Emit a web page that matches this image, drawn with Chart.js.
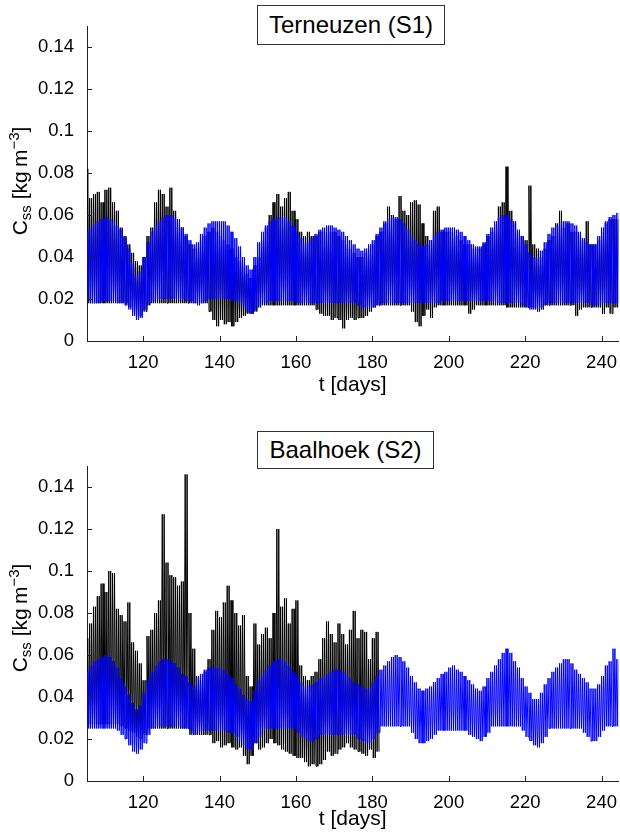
<!DOCTYPE html>
<html><head><meta charset="utf-8">
<script src="https://cdn.jsdelivr.net/npm/chart.js@4.4.1/dist/chart.umd.min.js"></script>
<style>
html,body{margin:0;padding:0;background:#fff;}
#wrap{position:relative;width:620px;height:839px;overflow:hidden;font-family:"Liberation Sans",Arial,Helvetica,sans-serif;color:#000;}
canvas{position:absolute;left:0;}
.tbox{position:absolute;border:1px solid #333;background:#fff;font-size:24px;text-align:center;box-sizing:border-box;white-space:nowrap;}
.ylab{position:absolute;font-size:21px;white-space:nowrap;transform:translate(-50%,-50%) rotate(-90deg);line-height:24px;}
.ylab sub{font-size:15px;vertical-align:-4px;line-height:0}
.ylab sup{font-size:15px;vertical-align:8px;line-height:0}
</style></head><body>
<div id="wrap">
<canvas id="c1" width="620" height="420" style="top:0"></canvas>
<canvas id="c2" width="620" height="419" style="top:420px"></canvas>
<div class="tbox" style="left:257px;top:5px;width:188px;height:40px;line-height:38px">Terneuzen (S1)</div>
<div class="tbox" style="left:257px;top:431px;width:177px;height:38px;line-height:36px">Baalhoek (S2)</div>
<div class="ylab" style="left:20px;top:181px">C<sub>ss</sub> [kg&#8201;m<sup>&#8722;3</sup>]</div>
<div class="ylab" style="left:20px;top:618px">C<sub>ss</sub> [kg&#8201;m<sup>&#8722;3</sup>]</div>
</div>
<script>
// ---- data (kg m^-3): daily high-water / low-water envelope values starting at startDay ----
const startDay = 105;
const tidesPerDay = 2; // semi-diurnal tide: each day's envelope holds for both tides of that day
const xTicks = [120, 140, 160, 180, 200, 220, 240];
const xTickLabels = ['120', '140', '160', '180', '200', '220', '240'];
const yTicks = [0, 0.02, 0.04, 0.06, 0.08, 0.1, 0.12, 0.14];
const yTickLabels = ['0', '0.02', '0.04', '0.06', '0.08', '0.1', '0.12', '0.14'];

// Terneuzen (S1) model
const s1ModHi = [
0.052,0.054,0.056,0.057,0.058,0.059,0.058,0.057,0.055,0.053,
0.049,0.044,0.037,0.031,0.033,0.040,0.047,0.052,0.055,0.057,
0.059,0.060,0.060,0.059,0.057,0.054,0.051,0.048,0.046,0.047,
0.051,0.054,0.056,0.057,0.057,0.057,0.057,0.055,0.052,0.049,
0.045,0.040,0.036,0.034,0.040,0.047,0.052,0.055,0.057,0.058,
0.059,0.059,0.059,0.057,0.055,0.052,0.049,0.047,0.047,0.049,
0.051,0.053,0.054,0.055,0.055,0.054,0.053,0.052,0.050,0.048,
0.046,0.044,0.043,0.044,0.046,0.048,0.051,0.054,0.057,0.058,
0.059,0.059,0.058,0.056,0.053,0.050,0.048,0.046,0.045,0.046,
0.048,0.050,0.052,0.053,0.054,0.054,0.054,0.053,0.052,0.050,
0.048,0.046,0.045,0.045,0.047,0.051,0.054,0.057,0.059,0.060,
0.060,0.058,0.056,0.053,0.050,0.046,0.042,0.040,0.040,0.043,
0.047,0.051,0.054,0.055,0.056,0.057,0.057,0.056,0.055,0.052,
0.049,0.047,0.046,0.046,0.050,0.054,0.057,0.059,0.060,0.061];
const s1ModLo = [
0.019,0.018,0.018,0.018,0.019,0.019,0.019,0.019,0.018,0.018,
0.017,0.015,0.012,0.010,0.011,0.015,0.018,0.019,0.020,0.020,
0.020,0.020,0.020,0.020,0.020,0.020,0.019,0.019,0.018,0.017,
0.018,0.019,0.020,0.020,0.020,0.020,0.020,0.020,0.019,0.019,
0.018,0.016,0.014,0.013,0.015,0.017,0.018,0.018,0.019,0.019,
0.019,0.019,0.019,0.019,0.019,0.018,0.018,0.018,0.018,0.018,
0.018,0.018,0.018,0.018,0.018,0.018,0.018,0.018,0.018,0.018,
0.018,0.017,0.016,0.016,0.016,0.016,0.017,0.018,0.018,0.018,
0.018,0.018,0.018,0.018,0.018,0.018,0.018,0.018,0.018,0.018,
0.018,0.018,0.018,0.019,0.019,0.019,0.019,0.019,0.019,0.019,
0.019,0.019,0.019,0.019,0.019,0.019,0.019,0.018,0.018,0.018,
0.018,0.018,0.018,0.018,0.017,0.016,0.015,0.015,0.015,0.016,
0.017,0.018,0.018,0.018,0.018,0.018,0.018,0.018,0.018,0.018,
0.018,0.018,0.017,0.017,0.017,0.018,0.018,0.018,0.018,0.018];
// Terneuzen (S1) observed
const s1ObsHi = [
0.082,0.068,0.070,0.071,0.066,0.072,0.073,0.066,0.062,0.054,
0.050,0.046,0.042,0.038,0.036,0.040,0.050,0.054,0.066,0.072,
0.070,0.064,0.073,0.062,0.058,0.054,0.050,0.046,0.044,0.044,
0.048,0.050,0.052,0.054,0.052,0.050,0.048,0.046,0.044,0.040,
0.038,0.035,0.032,0.030,0.036,0.040,0.048,0.054,0.060,0.066,
0.070,0.064,0.068,0.071,0.062,0.058,0.052,0.050,0.052,0.050,
0.050,0.052,0.052,0.054,0.052,0.052,0.050,0.048,0.046,0.044,
0.042,0.040,0.040,0.042,0.044,0.046,0.050,0.052,0.056,0.064,
0.060,0.058,0.069,0.062,0.060,0.066,0.067,0.065,0.056,0.050,
0.048,0.062,0.064,0.052,0.052,0.052,0.052,0.050,0.048,0.046,
0.046,0.044,0.044,0.044,0.046,0.050,0.052,0.056,0.064,0.066,
0.083,0.062,0.057,0.052,0.050,0.048,0.074,0.046,0.044,0.040,
0.044,0.048,0.050,0.056,0.062,0.054,0.056,0.052,0.052,0.050,
0.048,0.057,0.046,0.046,0.048,0.052,0.056,0.058,0.058,0.058];
const s1ObsLo = [
0.018,0.018,0.018,0.018,0.018,0.018,0.018,0.018,0.018,0.018,
0.018,0.016,0.014,0.012,0.012,0.014,0.017,0.018,0.018,0.018,
0.018,0.018,0.018,0.018,0.018,0.018,0.018,0.018,0.018,0.018,
0.018,0.018,0.014,0.010,0.007,0.010,0.008,0.009,0.007,0.009,
0.011,0.012,0.013,0.013,0.014,0.016,0.017,0.017,0.017,0.017,
0.017,0.017,0.017,0.017,0.017,0.017,0.017,0.017,0.017,0.017,
0.015,0.013,0.012,0.012,0.010,0.011,0.010,0.006,0.010,0.011,
0.010,0.011,0.011,0.012,0.014,0.016,0.017,0.017,0.017,0.017,
0.017,0.017,0.017,0.017,0.017,0.014,0.009,0.007,0.012,0.015,
0.011,0.016,0.017,0.017,0.017,0.017,0.017,0.017,0.017,0.017,
0.013,0.015,0.017,0.017,0.017,0.017,0.017,0.017,0.017,0.017,
0.016,0.016,0.016,0.016,0.016,0.016,0.016,0.016,0.014,0.015,
0.017,0.017,0.017,0.017,0.017,0.017,0.017,0.017,0.012,0.015,
0.016,0.016,0.016,0.016,0.016,0.013,0.016,0.013,0.016,0.016];

// Baalhoek (S2) model
const s2ModHi = [
0.052,0.055,0.057,0.058,0.059,0.060,0.059,0.057,0.054,0.049,
0.045,0.041,0.037,0.034,0.036,0.042,0.048,0.052,0.055,0.057,
0.058,0.058,0.057,0.056,0.054,0.051,0.050,0.047,0.045,0.049,
0.051,0.053,0.054,0.054,0.054,0.054,0.053,0.051,0.049,0.046,
0.044,0.041,0.039,0.038,0.043,0.048,0.051,0.053,0.055,0.057,
0.058,0.058,0.057,0.055,0.052,0.050,0.047,0.045,0.045,0.046,
0.047,0.049,0.050,0.051,0.052,0.053,0.053,0.052,0.051,0.049,
0.047,0.046,0.045,0.044,0.044,0.047,0.050,0.053,0.055,0.057,
0.059,0.060,0.059,0.057,0.054,0.050,0.047,0.044,0.043,0.044,
0.045,0.047,0.049,0.051,0.052,0.054,0.055,0.053,0.052,0.050,
0.048,0.046,0.044,0.043,0.045,0.049,0.052,0.055,0.058,0.061,
0.063,0.061,0.057,0.054,0.049,0.045,0.042,0.039,0.039,0.042,
0.046,0.049,0.052,0.054,0.056,0.058,0.058,0.056,0.053,0.051,
0.049,0.047,0.044,0.044,0.046,0.050,0.055,0.057,0.063,0.058];
const s2ModLo = [
0.025,0.025,0.025,0.025,0.025,0.025,0.025,0.025,0.024,0.022,
0.020,0.017,0.014,0.013,0.015,0.018,0.022,0.025,0.026,0.026,
0.026,0.026,0.026,0.026,0.026,0.025,0.025,0.024,0.022,0.023,
0.024,0.024,0.024,0.024,0.024,0.024,0.024,0.023,0.023,0.021,
0.019,0.017,0.015,0.015,0.018,0.021,0.024,0.025,0.025,0.025,
0.025,0.025,0.025,0.025,0.025,0.023,0.021,0.020,0.019,0.019,
0.020,0.022,0.022,0.022,0.022,0.022,0.022,0.022,0.022,0.022,
0.022,0.020,0.019,0.018,0.018,0.020,0.023,0.026,0.026,0.026,
0.026,0.026,0.026,0.026,0.026,0.023,0.020,0.018,0.018,0.019,
0.020,0.022,0.024,0.024,0.024,0.024,0.024,0.024,0.024,0.024,
0.022,0.021,0.020,0.019,0.021,0.023,0.026,0.026,0.026,0.026,
0.026,0.026,0.026,0.026,0.024,0.021,0.019,0.017,0.016,0.018,
0.021,0.025,0.025,0.025,0.025,0.025,0.025,0.025,0.025,0.025,
0.023,0.021,0.019,0.019,0.021,0.024,0.026,0.026,0.026,0.026];
// Baalhoek (S2) observed (days 105-181)
const s2ObsHi = [
0.068,0.075,0.083,0.088,0.094,0.090,0.100,0.099,0.082,0.079,
0.076,0.085,0.066,0.062,0.056,0.048,0.069,0.072,0.080,0.086,
0.127,0.104,0.098,0.097,0.093,0.095,0.146,0.080,0.063,0.050,
0.048,0.052,0.058,0.072,0.081,0.078,0.085,0.093,0.086,0.080,
0.074,0.079,0.050,0.045,0.075,0.065,0.070,0.073,0.068,0.080,
0.120,0.083,0.087,0.075,0.082,0.086,0.055,0.050,0.048,0.050,
0.052,0.058,0.068,0.076,0.070,0.066,0.075,0.070,0.065,0.072,
0.081,0.068,0.072,0.071,0.058,0.068,0.071];
const s2ObsLo = [
0.027,0.027,0.027,0.027,0.027,0.027,0.027,0.027,0.027,0.026,
0.025,0.024,0.023,0.021,0.020,0.022,0.025,0.025,0.025,0.025,
0.025,0.025,0.025,0.025,0.025,0.025,0.025,0.022,0.022,0.022,
0.022,0.022,0.022,0.018,0.019,0.016,0.017,0.018,0.016,0.015,
0.016,0.012,0.008,0.012,0.018,0.015,0.016,0.018,0.020,0.018,
0.017,0.015,0.014,0.013,0.012,0.011,0.011,0.009,0.007,0.008,
0.007,0.008,0.010,0.014,0.012,0.013,0.015,0.016,0.018,0.016,
0.015,0.014,0.013,0.012,0.015,0.011,0.014];

// ---- build the line data: each tide has a high-water sample then a low-water sample ----
function tidalSeries(hi, lo) {
  const pts = [];
  const step = 1 / tidesPerDay;
  for (let i = 0; i < hi.length; i++) {
    const d = startDay + i;
    for (let k = 0; k < tidesPerDay; k++) {
      pts.push({x: d + k * step, y: hi[i]});
      pts.push({x: d + k * step + step / 2, y: lo[i]});
    }
  }
  return pts;
}

const FONT = '"Liberation Sans", Arial, Helvetica, sans-serif';
Chart.defaults.font.family = FONT;
Chart.defaults.color = '#000';

const inwardTicks = {
  id: 'inwardTicks',
  afterDatasetsDraw(chart) {
    const {ctx, chartArea} = chart;
    const xs = chart.scales.x, ys = chart.scales.y;
    ctx.save();
    ctx.strokeStyle = '#222';
    ctx.lineWidth = 1;
    ctx.beginPath();
    xs.ticks.forEach(t => {
      const px = Math.round(xs.getPixelForValue(t.value)) + 0.5;
      ctx.moveTo(px, chartArea.bottom);
      ctx.lineTo(px, chartArea.bottom - 5);
    });
    ys.ticks.forEach(t => {
      const py = Math.round(ys.getPixelForValue(t.value)) + 0.5;
      ctx.moveTo(chartArea.left, py);
      ctx.lineTo(chartArea.left + 5, py);
    });
    ctx.stroke();
    ctx.restore();
  }
};

function makeChart(id, obsHi, obsLo, modHi, modLo, padTop, xAxisH, titlePadBottom) {
  return new Chart(document.getElementById(id), {
    type: 'line',
    data: {
      datasets: [
        {label: 'model', data: tidalSeries(modHi, modLo), borderColor: '#0000ff', borderWidth: 1,
         pointRadius: 0, tension: 0, fill: false, order: 0},
        {label: 'observed', data: tidalSeries(obsHi, obsLo), borderColor: '#000000', borderWidth: 1,
         pointRadius: 0, tension: 0, fill: false, order: 1}
      ]
    },
    options: {
      responsive: false,
      animation: false,
      events: [],
      layout: {padding: {top: padTop, right: 1, left: 0, bottom: 0}},
      plugins: {legend: {display: false}, tooltip: {enabled: false}, title: {display: false}},
      scales: {
        x: {
          type: 'linear', min: 105.3, max: 244.4,
          grid: {display: false},
          border: {display: true, color: '#222', width: 1},
          afterBuildTicks(s) { s.ticks = xTicks.map(v => ({value: v})); },
          afterFit(s) { s.height = xAxisH; },
          ticks: {font: {size: 18.5}, color: '#000', padding: 3, maxRotation: 0, autoSkip: false,
                  callback: (v, i) => xTickLabels[i]},
          title: {display: true, text: 't [days]', font: {size: 21}, color: '#000',
                  padding: {top: 0, bottom: titlePadBottom}}
        },
        y: {
          min: 0, max: 0.15,
          grid: {display: false},
          border: {display: true, color: '#222', width: 1},
          afterBuildTicks(s) { s.ticks = yTicks.map(v => ({value: v})); },
          afterFit(s) { s.width = 87; },
          ticks: {font: {size: 18.5}, color: '#000', padding: 5, autoSkip: false,
                  callback: (v, i) => yTickLabels[i]}
        }
      }
    },
    plugins: [inwardTicks]
  });
}

makeChart('c1', s1ObsHi, s1ObsLo, s1ModHi, s1ModLo, 26, 79, 22.4);
makeChart('c2', s2ObsHi, s2ObsLo, s2ModHi, s2ModLo, 46, 58, 7.4);
</script>
</body></html>
